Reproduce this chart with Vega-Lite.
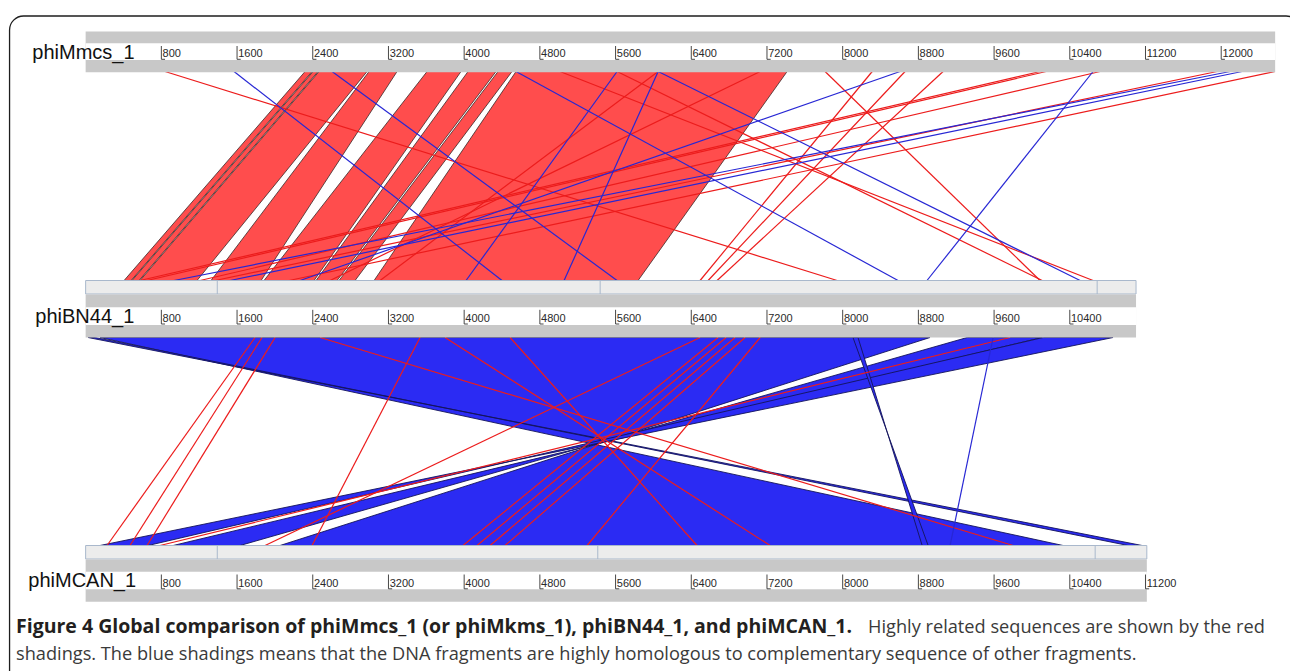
{
  "$schema": "https://vega.github.io/schema/vega-lite/v6.json",
  "width": 1290,
  "height": 671,
  "autosize": "none",
  "padding": 0,
  "background": "white",
  "config": {"view": {"stroke": null}, "axis": {"disable": true}, "legend": {"disable": true}},
  "datasets": {
    "genomes": [
      {"genome": "phiMmcs_1", "length": 12570},
      {"genome": "phiBN44_1", "length": 11100},
      {"genome": "phiMCAN_1", "length": 11214}
    ],
    "dividers": [
      {"genome": "phiBN44_1", "pos": 1391}, {"genome": "phiBN44_1", "pos": 5437}, {"genome": "phiBN44_1", "pos": 10689},
      {"genome": "phiMCAN_1", "pos": 1391}, {"genome": "phiMCAN_1", "pos": 5412}, {"genome": "phiMCAN_1", "pos": 10668}
    ],
    "ticks": [
      {"genome": "phiMmcs_1", "pos": 800}, {"genome": "phiMmcs_1", "pos": 1600}, {"genome": "phiMmcs_1", "pos": 2400}, {"genome": "phiMmcs_1", "pos": 3200}, {"genome": "phiMmcs_1", "pos": 4000}, {"genome": "phiMmcs_1", "pos": 4800}, {"genome": "phiMmcs_1", "pos": 5600}, {"genome": "phiMmcs_1", "pos": 6400}, {"genome": "phiMmcs_1", "pos": 7200}, {"genome": "phiMmcs_1", "pos": 8000}, {"genome": "phiMmcs_1", "pos": 8800}, {"genome": "phiMmcs_1", "pos": 9600}, {"genome": "phiMmcs_1", "pos": 10400}, {"genome": "phiMmcs_1", "pos": 11200}, {"genome": "phiMmcs_1", "pos": 12000},
      {"genome": "phiBN44_1", "pos": 800}, {"genome": "phiBN44_1", "pos": 1600}, {"genome": "phiBN44_1", "pos": 2400}, {"genome": "phiBN44_1", "pos": 3200}, {"genome": "phiBN44_1", "pos": 4000}, {"genome": "phiBN44_1", "pos": 4800}, {"genome": "phiBN44_1", "pos": 5600}, {"genome": "phiBN44_1", "pos": 6400}, {"genome": "phiBN44_1", "pos": 7200}, {"genome": "phiBN44_1", "pos": 8000}, {"genome": "phiBN44_1", "pos": 8800}, {"genome": "phiBN44_1", "pos": 9600}, {"genome": "phiBN44_1", "pos": 10400},
      {"genome": "phiMCAN_1", "pos": 800}, {"genome": "phiMCAN_1", "pos": 1600}, {"genome": "phiMCAN_1", "pos": 2400}, {"genome": "phiMCAN_1", "pos": 3200}, {"genome": "phiMCAN_1", "pos": 4000}, {"genome": "phiMCAN_1", "pos": 4800}, {"genome": "phiMCAN_1", "pos": 5600}, {"genome": "phiMCAN_1", "pos": 6400}, {"genome": "phiMCAN_1", "pos": 7200}, {"genome": "phiMCAN_1", "pos": 8000}, {"genome": "phiMCAN_1", "pos": 8800}, {"genome": "phiMCAN_1", "pos": 9600}, {"genome": "phiMCAN_1", "pos": 10400}, {"genome": "phiMCAN_1", "pos": 11200}
    ],
    "bands1": [
      {"id": "A1", "strand": "forward", "end": "upper", "from": 2319, "to": 2393},
      {"id": "A1", "strand": "forward", "end": "lower", "from": 406, "to": 480},
      {"id": "A2", "strand": "forward", "end": "upper", "from": 2404, "to": 2456},
      {"id": "A2", "strand": "forward", "end": "lower", "from": 490, "to": 564},
      {"id": "B", "strand": "forward", "end": "upper", "from": 2467, "to": 2974},
      {"id": "B", "strand": "forward", "end": "lower", "from": 575, "to": 1177},
      {"id": "C", "strand": "forward", "end": "upper", "from": 2995, "to": 3291},
      {"id": "C", "strand": "forward", "end": "lower", "from": 1325, "to": 1854},
      {"id": "D", "strand": "forward", "end": "upper", "from": 3608, "to": 3967},
      {"id": "D", "strand": "forward", "end": "lower", "from": 1885, "to": 2414},
      {"id": "E", "strand": "forward", "end": "upper", "from": 4041, "to": 4337},
      {"id": "E", "strand": "forward", "end": "lower", "from": 2435, "to": 2657},
      {"id": "F", "strand": "forward", "end": "upper", "from": 4358, "to": 4506},
      {"id": "F", "strand": "forward", "end": "lower", "from": 2678, "to": 2847},
      {"id": "G", "strand": "forward", "end": "upper", "from": 4548, "to": 7413},
      {"id": "G", "strand": "forward", "end": "lower", "from": 3048, "to": 5838}
    ],
    "lines1": [
      {"id": "l1", "strand": "forward", "upper": 839, "lower": 7941},
      {"id": "l2", "strand": "forward", "upper": 5013, "lower": 10646},
      {"id": "l3", "strand": "forward", "upper": 5616, "lower": 10108},
      {"id": "l4", "strand": "forward", "upper": 7814, "lower": 10086},
      {"id": "l5", "strand": "forward", "upper": 6050, "lower": 3111},
      {"id": "l6", "strand": "forward", "upper": 7128, "lower": 2583},
      {"id": "l7", "strand": "forward", "upper": 8312, "lower": 6493},
      {"id": "l8", "strand": "forward", "upper": 8659, "lower": 6578},
      {"id": "l9", "strand": "forward", "upper": 9061, "lower": 6673},
      {"id": "l10", "strand": "forward", "upper": 10086, "lower": 575},
      {"id": "l11", "strand": "forward", "upper": 10150, "lower": 649},
      {"id": "l12", "strand": "forward", "upper": 10720, "lower": 1209},
      {"id": "l13", "strand": "forward", "upper": 11956, "lower": 1368},
      {"id": "l14", "strand": "forward", "upper": 12568, "lower": 2150},
      {"id": "l15", "strand": "reverse", "upper": 1568, "lower": 4400},
      {"id": "l16", "strand": "reverse", "upper": 2604, "lower": 5616},
      {"id": "l17", "strand": "reverse", "upper": 4548, "lower": 8585},
      {"id": "l18", "strand": "reverse", "upper": 5616, "lower": 4020},
      {"id": "l19", "strand": "reverse", "upper": 6050, "lower": 5056},
      {"id": "l20", "strand": "reverse", "upper": 6050, "lower": 10509},
      {"id": "l21", "strand": "reverse", "upper": 10646, "lower": 8891},
      {"id": "l22", "strand": "reverse", "upper": 8606, "lower": 2266},
      {"id": "l23", "strand": "reverse", "upper": 12094, "lower": 934},
      {"id": "l24", "strand": "reverse", "upper": 12220, "lower": 1526}
    ],
    "bands2": [
      {"id": "M1", "strand": "reverse", "end": "upper", "from": 152, "to": 8923},
      {"id": "M1", "strand": "reverse", "end": "lower", "from": 10329, "to": 2054},
      {"id": "M1b", "strand": "reverse", "end": "upper", "from": 26, "to": 100},
      {"id": "M1b", "strand": "reverse", "end": "lower", "from": 11164, "to": 11016},
      {"id": "M2", "strand": "reverse", "end": "upper", "from": 9315, "to": 10108},
      {"id": "M2", "strand": "reverse", "end": "lower", "from": 1632, "to": 924},
      {"id": "M3", "strand": "reverse", "end": "upper", "from": 10118, "to": 10857},
      {"id": "M3", "strand": "reverse", "end": "lower", "from": 660, "to": 152},
      {"id": "M4", "strand": "reverse", "end": "upper", "from": 8109, "to": 8162},
      {"id": "M4", "strand": "reverse", "end": "lower", "from": 8903, "to": 8840}
    ],
    "lines2": [
      {"id": "n1", "strand": "forward", "upper": 1790, "lower": 226},
      {"id": "n2", "strand": "forward", "upper": 1864, "lower": 469},
      {"id": "n3", "strand": "forward", "upper": 2002, "lower": 649},
      {"id": "n4", "strand": "forward", "upper": 2477, "lower": 9801},
      {"id": "n5", "strand": "forward", "upper": 4485, "lower": 6461},
      {"id": "n6", "strand": "forward", "upper": 6683, "lower": 3988},
      {"id": "n7", "strand": "forward", "upper": 6768, "lower": 4136},
      {"id": "n8", "strand": "forward", "upper": 6863, "lower": 4274},
      {"id": "n9", "strand": "forward", "upper": 6969, "lower": 4432},
      {"id": "n10", "strand": "forward", "upper": 7128, "lower": 5299},
      {"id": "n11", "strand": "forward", "upper": 6493, "lower": 1896},
      {"id": "n12", "strand": "forward", "upper": 3534, "lower": 2393},
      {"id": "n13", "strand": "forward", "upper": 9769, "lower": 786},
      {"id": "n14", "strand": "forward", "upper": 3798, "lower": 7233},
      {"id": "n15", "strand": "reverse", "upper": 9590, "lower": 9135}
    ]
  },
  "resolve": {"scale": {"y": "independent"}},
  "layer": [
    {
      "layer": [
        {
          "data": {"name": "bands1"},
          "mark": {"type": "area", "orient": "horizontal", "strokeWidth": 0.8},
          "encoding": {
            "y": {"field": "end", "type": "ordinal", "scale": {"type": "point", "domain": ["upper", "lower"], "range": [71.5, 280.5], "padding": 0}},
            "x": {"field": "from", "type": "quantitative", "stack": null, "scale": {"domain": [-905, 12727], "nice": false, "zero": false}},
            "x2": {"field": "to"},
            "detail": {"field": "id"},
            "fill": {"field": "strand", "type": "nominal", "scale": {"domain": ["forward", "reverse"], "range": ["#ff4d4d", "#2b2bf3"]}},
            "stroke": {"field": "strand", "type": "nominal", "scale": {"domain": ["forward", "reverse"], "range": ["#3a2a2a", "#14145a"]}}
          }
        },
        {
          "data": {"name": "lines1"},
          "transform": [{"fold": ["upper", "lower"], "as": ["end", "pos"]}],
          "mark": {"type": "line", "strokeWidth": 1.2},
          "encoding": {
            "y": {"field": "end", "type": "ordinal"},
            "x": {"field": "pos", "type": "quantitative"},
            "detail": {"field": "id"},
            "color": {"field": "strand", "type": "nominal", "scale": {"domain": ["forward", "reverse"], "range": ["#ec1c1c", "#2727d4"]}}
          }
        }
      ]
    },
    {
      "layer": [
        {
          "data": {"name": "bands2"},
          "mark": {"type": "area", "orient": "horizontal", "strokeWidth": 0.9},
          "encoding": {
            "y": {"field": "end", "type": "ordinal", "scale": {"type": "point", "domain": ["upper", "lower"], "range": [337.5, 545.5], "padding": 0}},
            "x": {"field": "from", "type": "quantitative", "stack": null},
            "x2": {"field": "to"},
            "detail": {"field": "id"},
            "fill": {"field": "strand", "type": "nominal"},
            "stroke": {"field": "strand", "type": "nominal"}
          }
        },
        {
          "data": {"name": "lines2"},
          "transform": [{"fold": ["upper", "lower"], "as": ["end", "pos"]}],
          "mark": {"type": "line", "strokeWidth": 1.2},
          "encoding": {
            "y": {"field": "end", "type": "ordinal"},
            "x": {"field": "pos", "type": "quantitative"},
            "detail": {"field": "id"},
            "color": {"field": "strand", "type": "nominal"}
          }
        }
      ]
    },
    {
      "layer": [
        {
          "data": {"values": [{}]},
          "mark": {"type": "rect", "filled": false, "stroke": "#1e1e1e", "strokeWidth": 1.3, "cornerRadius": 14},
          "encoding": {
            "x": {"datum": -804, "type": "quantitative", "scale": {"domain": [-905, 12727], "nice": false, "zero": false}},
            "x2": {"datum": 12834},
            "y": {"datum": 16, "type": "quantitative", "scale": {"domain": [0, 671], "reverse": true, "nice": false, "zero": false}},
            "y2": {"datum": 700}
          }
        },
        {
          "data": {"name": "genomes"},
          "transform": [{"filter": "datum.genome === 'phiMmcs_1'"}],
          "mark": {"type": "rect", "fill": "#c8c8c8"},
          "encoding": {"x": {"field": "length", "type": "quantitative"}, "x2": {"datum": 0}, "y": {"datum": 31.5, "type": "quantitative"}, "y2": {"datum": 72.3}}
        },
        {
          "data": {"name": "genomes"},
          "transform": [{"filter": "datum.genome === 'phiMmcs_1'"}],
          "mark": {"type": "rect", "fill": "#ffffff"},
          "encoding": {"x": {"field": "length", "type": "quantitative"}, "x2": {"datum": 0}, "y": {"datum": 43.3, "type": "quantitative"}, "y2": {"datum": 60}}
        },
        {
          "data": {"name": "genomes"},
          "transform": [{"filter": "datum.genome === 'phiBN44_1'"}],
          "mark": {"type": "rect", "fill": "#ececec", "stroke": "#a9b8cc", "strokeWidth": 1},
          "encoding": {"x": {"field": "length", "type": "quantitative"}, "x2": {"datum": 0}, "y": {"datum": 280.5, "type": "quantitative"}, "y2": {"datum": 294}}
        },
        {
          "data": {"name": "genomes"},
          "transform": [{"filter": "datum.genome === 'phiBN44_1'"}],
          "mark": {"type": "rect", "fill": "#c8c8c8"},
          "encoding": {"x": {"field": "length", "type": "quantitative"}, "x2": {"datum": 0}, "y": {"datum": 294.5, "type": "quantitative"}, "y2": {"datum": 337.5}}
        },
        {
          "data": {"name": "genomes"},
          "transform": [{"filter": "datum.genome === 'phiBN44_1'"}],
          "mark": {"type": "rect", "fill": "#ffffff"},
          "encoding": {"x": {"field": "length", "type": "quantitative"}, "x2": {"datum": 0}, "y": {"datum": 307.3, "type": "quantitative"}, "y2": {"datum": 325}}
        },
        {
          "data": {"name": "genomes"},
          "transform": [{"filter": "datum.genome === 'phiMCAN_1'"}],
          "mark": {"type": "rect", "fill": "#ececec", "stroke": "#a9b8cc", "strokeWidth": 1},
          "encoding": {"x": {"field": "length", "type": "quantitative"}, "x2": {"datum": 0}, "y": {"datum": 545.5, "type": "quantitative"}, "y2": {"datum": 559}}
        },
        {
          "data": {"name": "genomes"},
          "transform": [{"filter": "datum.genome === 'phiMCAN_1'"}],
          "mark": {"type": "rect", "fill": "#c8c8c8"},
          "encoding": {"x": {"field": "length", "type": "quantitative"}, "x2": {"datum": 0}, "y": {"datum": 559.5, "type": "quantitative"}, "y2": {"datum": 601.7}}
        },
        {
          "data": {"name": "genomes"},
          "transform": [{"filter": "datum.genome === 'phiMCAN_1'"}],
          "mark": {"type": "rect", "fill": "#ffffff"},
          "encoding": {"x": {"field": "length", "type": "quantitative"}, "x2": {"datum": 0}, "y": {"datum": 571.7, "type": "quantitative"}, "y2": {"datum": 589.3}}
        },
        {
          "data": {"name": "dividers"},
          "transform": [{"filter": "datum.genome === 'phiBN44_1'"}],
          "mark": {"type": "rule", "stroke": "#a9b8cc", "strokeWidth": 1},
          "encoding": {"x": {"field": "pos", "type": "quantitative"}, "y": {"datum": 280.5, "type": "quantitative"}, "y2": {"datum": 294}}
        },
        {
          "data": {"name": "dividers"},
          "transform": [{"filter": "datum.genome === 'phiMCAN_1'"}],
          "mark": {"type": "rule", "stroke": "#a9b8cc", "strokeWidth": 1},
          "encoding": {"x": {"field": "pos", "type": "quantitative"}, "y": {"datum": 545.5, "type": "quantitative"}, "y2": {"datum": 559}}
        },
        {
          "data": {"name": "ticks"},
          "transform": [{"filter": "datum.genome === 'phiMmcs_1'"}],
          "mark": {"type": "rule", "stroke": "#333333", "strokeWidth": 0.9},
          "encoding": {"x": {"field": "pos", "type": "quantitative"}, "y": {"datum": 46, "type": "quantitative"}, "y2": {"datum": 59.3}}
        },
        {
          "data": {"name": "ticks"},
          "transform": [{"filter": "datum.genome === 'phiMmcs_1'"}],
          "mark": {"type": "rule", "stroke": "#333333", "strokeWidth": 0.9, "x2Offset": 3.7},
          "encoding": {"x": {"field": "pos", "type": "quantitative"}, "x2": {"field": "pos"}, "y": {"datum": 59.3, "type": "quantitative"}}
        },
        {
          "data": {"name": "ticks"},
          "transform": [{"filter": "datum.genome === 'phiMmcs_1'"}],
          "mark": {"type": "text", "align": "left", "baseline": "alphabetic", "dx": 1.2, "font": "Liberation Sans Narrow, Liberation Sans, sans-serif", "fontSize": 11, "fill": "#2a2a2a"},
          "encoding": {"x": {"field": "pos", "type": "quantitative"}, "y": {"datum": 57.3, "type": "quantitative"}, "text": {"field": "pos", "type": "quantitative", "format": "d"}}
        },
        {
          "data": {"name": "ticks"},
          "transform": [{"filter": "datum.genome === 'phiBN44_1'"}],
          "mark": {"type": "rule", "stroke": "#333333", "strokeWidth": 0.9},
          "encoding": {"x": {"field": "pos", "type": "quantitative"}, "y": {"datum": 309.8, "type": "quantitative"}, "y2": {"datum": 324}}
        },
        {
          "data": {"name": "ticks"},
          "transform": [{"filter": "datum.genome === 'phiBN44_1'"}],
          "mark": {"type": "rule", "stroke": "#333333", "strokeWidth": 0.9, "x2Offset": 3.7},
          "encoding": {"x": {"field": "pos", "type": "quantitative"}, "x2": {"field": "pos"}, "y": {"datum": 324, "type": "quantitative"}}
        },
        {
          "data": {"name": "ticks"},
          "transform": [{"filter": "datum.genome === 'phiBN44_1'"}],
          "mark": {"type": "text", "align": "left", "baseline": "alphabetic", "dx": 1.2, "font": "Liberation Sans Narrow, Liberation Sans, sans-serif", "fontSize": 11, "fill": "#2a2a2a"},
          "encoding": {"x": {"field": "pos", "type": "quantitative"}, "y": {"datum": 321.7, "type": "quantitative"}, "text": {"field": "pos", "type": "quantitative", "format": "d"}}
        },
        {
          "data": {"name": "ticks"},
          "transform": [{"filter": "datum.genome === 'phiMCAN_1'"}],
          "mark": {"type": "rule", "stroke": "#333333", "strokeWidth": 0.9},
          "encoding": {"x": {"field": "pos", "type": "quantitative"}, "y": {"datum": 574.5, "type": "quantitative"}, "y2": {"datum": 588.8}}
        },
        {
          "data": {"name": "ticks"},
          "transform": [{"filter": "datum.genome === 'phiMCAN_1'"}],
          "mark": {"type": "rule", "stroke": "#333333", "strokeWidth": 0.9, "x2Offset": 3.7},
          "encoding": {"x": {"field": "pos", "type": "quantitative"}, "x2": {"field": "pos"}, "y": {"datum": 588.8, "type": "quantitative"}}
        },
        {
          "data": {"name": "ticks"},
          "transform": [{"filter": "datum.genome === 'phiMCAN_1'"}],
          "mark": {"type": "text", "align": "left", "baseline": "alphabetic", "dx": 1.2, "font": "Liberation Sans Narrow, Liberation Sans, sans-serif", "fontSize": 11, "fill": "#2a2a2a"},
          "encoding": {"x": {"field": "pos", "type": "quantitative"}, "y": {"datum": 586.5, "type": "quantitative"}, "text": {"field": "pos", "type": "quantitative", "format": "d"}}
        },
        {
          "data": {"name": "genomes"},
          "transform": [{"filter": "datum.genome === 'phiMmcs_1'"}],
          "mark": {"type": "text", "align": "left", "baseline": "alphabetic", "font": "Liberation Sans", "fontSize": 20, "fill": "#111111"},
          "encoding": {"x": {"datum": -563, "type": "quantitative"}, "y": {"datum": 58.5, "type": "quantitative"}, "text": {"field": "genome"}}
        },
        {
          "data": {"name": "genomes"},
          "transform": [{"filter": "datum.genome === 'phiBN44_1'"}],
          "mark": {"type": "text", "align": "left", "baseline": "alphabetic", "font": "Liberation Sans", "fontSize": 20, "fill": "#111111"},
          "encoding": {"x": {"datum": -532, "type": "quantitative"}, "y": {"datum": 323.3, "type": "quantitative"}, "text": {"field": "genome"}}
        },
        {
          "data": {"name": "genomes"},
          "transform": [{"filter": "datum.genome === 'phiMCAN_1'"}],
          "mark": {"type": "text", "align": "left", "baseline": "alphabetic", "font": "Liberation Sans", "fontSize": 20, "fill": "#111111"},
          "encoding": {"x": {"datum": -606, "type": "quantitative"}, "y": {"datum": 586.7, "type": "quantitative"}, "text": {"field": "genome"}}
        },
        {
          "data": {"values": [{"caption": "Figure 4 Global comparison of phiMmcs_1 (or phiMkms_1), phiBN44_1, and phiMCAN_1."}]},
          "mark": {"type": "text", "align": "left", "baseline": "alphabetic", "font": "Open Sans", "fontSize": 19.5, "fontWeight": "bold", "fill": "#231f20"},
          "encoding": {"x": {"datum": -736, "type": "quantitative"}, "y": {"datum": 633, "type": "quantitative"}, "text": {"field": "caption"}}
        },
        {
          "data": {"values": [{"caption": "Highly related sequences are shown by the red"}]},
          "mark": {"type": "text", "align": "left", "baseline": "alphabetic", "font": "Open Sans", "fontSize": 18.2, "fill": "#3a3a3a"},
          "encoding": {"x": {"datum": 8268, "type": "quantitative"}, "y": {"datum": 633, "type": "quantitative"}, "text": {"field": "caption"}}
        },
        {
          "data": {"values": [{"caption": "shadings. The blue shadings means that the DNA fragments are highly homologous to complementary sequence of other fragments."}]},
          "mark": {"type": "text", "align": "left", "baseline": "alphabetic", "font": "Open Sans", "fontSize": 18.2, "fill": "#3a3a3a"},
          "encoding": {"x": {"datum": -736, "type": "quantitative"}, "y": {"datum": 660, "type": "quantitative"}, "text": {"field": "caption"}}
        }
      ]
    }
  ]
}
